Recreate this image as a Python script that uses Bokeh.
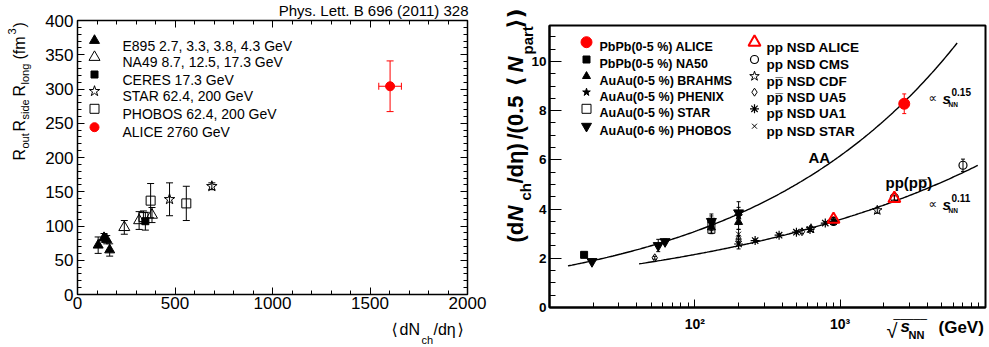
import numpy as np
from math import pi
from bokeh.plotting import figure
from bokeh.models import (ColumnDataSource, Whisker, TeeHead, Label, Range1d,
                          SingleIntervalTicker, FixedTicker, LinearAxis)
from bokeh.core.properties import value
from bokeh.layouts import row
from bokeh.embed import file_html
from bokeh.resources import INLINE

FONT = "Liberation Sans"

# ======================= LEFT PANEL DATA =======================
e895_x = [106, 136, 150, 165]
e895_y = [72, 83, 80, 65]
e895_err = [12, 6, 6, 9]

na49_x = [240, 316, 382]
na49_y = [98, 108, 116]
na49_err = [10, 13, 11]

ceres_x = [348]
ceres_y = [107]
ceres_err = [13]

starL_x = [472, 689]
starL_y = [139, 158]
starL_err = [24, 5]

phobosL_x = [338, 375, 558]
phobosL_y = [113, 137, 133]
phobosL_err = [9, 25, 25]

aliceL_x = [1603]
aliceL_y = [304]
aliceL_xerr = [58]
aliceL_yerr = [37]

left_legend = ["E895 2.7, 3.3, 3.8, 4.3 GeV", "NA49 8.7, 12.5, 17.3 GeV",
               "CERES 17.3 GeV", "STAR 62.4, 200 GeV", "PHOBOS 62.4, 200 GeV",
               "ALICE 2760 GeV"]

# ======================= RIGHT PANEL DATA =======================
alicePb_x = [2760]; alicePb_y = [8.28]; alicePb_err = [0.40]
na50_x = [17.3]; na50_y = [2.14]; na50_err = [0.08]
brahms_x = [130, 200]; brahms_y = [3.25, 3.47]; brahms_err = [0.25, 0.30]
phenix_x = [130, 200]; phenix_y = [3.42, 3.72]; phenix_err = [0.30, 0.35]
starAA_x = [130]; starAA_y = [3.32]; starAA_err = [0.30]
phobosAA_x = [19.6, 56, 62.4, 130, 200]
phobosAA_y = [1.87, 2.52, 2.68, 3.50, 3.85]
phobosAA_err = [0.10, 0.25, 0.10, 0.30, 0.45]

alicepp_x = [900, 2360]; alicepp_y = [3.58, 4.43]; alicepp_err = [0.10, 0.10]
cms_x = [900, 2360, 7000]; cms_y = [3.50, 4.47, 5.78]; cms_err = [0.10, 0.10, 0.25]
cdf_x = [630, 1800]; cdf_y = [3.20, 3.95]; cdf_err = [0.10, 0.12]
ua5_x = [53, 200, 546, 900]; ua5_y = [2.02, 2.78, 3.08, 3.48]; ua5_err = [0.06, 0.15, 0.08, 0.10]
ua1_x = [200, 260, 380, 500, 620, 790, 900]
ua1_y = [2.58, 2.72, 2.94, 3.06, 3.17, 3.43, 3.50]
ua1_err = [0.20, 0.06, 0.06, 0.06, 0.06, 0.06, 0.06]
starpp_x = [200]; starpp_y = [2.98]; starpp_err = [0.20]

# power-law fits drawn in the chart: c * sNN**exp, over the drawn range
aa_fit = dict(coef=0.776, exp=0.15, smin=13.4, smax=6380)
pp_fit = dict(coef=0.782, exp=0.11, smin=41.3, smax=8850)

right_legend_1 = ["PbPb(0-5 %) ALICE", "PbPb(0-5 %) NA50", "AuAu(0-5 %) BRAHMS",
                  "AuAu(0-5 %) PHENIX", "AuAu(0-5 %) STAR", "AuAu(0-6 %) PHOBOS"]
right_legend_2 = ["pp NSD  ALICE", "pp NSD CMS", "pp\u0305 NSD CDF",
                  "pp\u0305 NSD UA5", "pp\u0305 NSD UA1", "pp NSD STAR"]

# ======================= LAYOUT =======================
H = 347
LW = 490
L_FL, L_FR, L_FT, L_FB = 77, 467, 20, 294
LX0, LX1, LY0, LY1 = 0, 2000, 0, 400

RW = 499
R_FL, R_FR, R_FT, R_FB = 59, 495, 25, 307
RX0, RX1, RY0, RY1 = 10, 10000, 0, 11.46


def lpix(px, py):
    return ((px - L_FL) / (L_FR - L_FL) * (LX1 - LX0) + LX0,
            (L_FB - py) / (L_FB - L_FT) * (LY1 - LY0) + LY0)


def rpix(px, py):
    lx = np.log10(RX0) + (px - R_FL) / (R_FR - R_FL) * (np.log10(RX1) - np.log10(RX0))
    return (10 ** lx, (R_FB - py) / (R_FB - R_FT) * (RY1 - RY0) + RY0)


def lab(fig, text, x, y, size, style="normal", color="black", angle=0.0,
        align="left", baseline="alphabetic", font=FONT):
    """text inside the frame (canvas pixel position)"""
    fig.add_layout(Label(x=x, y=y, x_units="canvas", y_units="canvas", text=text,
                         text_font=font, text_font_size=f"{size}px",
                         text_font_style=style, text_color=color, angle=angle,
                         text_align=align, text_baseline=baseline))


def otext(fig, conv, text, x, y, size, style="normal", angle=0.0,
          align="left", font=FONT):
    """text outside the frame: text glyph on the overlay level.
    (x, y) is the baseline start; converted to the text's middle line."""
    shift = 0.33 * size
    if angle == 0.0:
        y = y - shift
    else:
        x = x - shift
    dx, dy = conv(x, y)
    fig.text(x=[dx], y=[dy], text=[text], text_font=value(font),
             text_font_size=value(f"{size}px"), text_font_style=value(style),
             text_color="black", angle=angle, text_align=align,
             text_baseline="middle", level="overlay")


def yerr(fig, xs, ys, es, color="black", head=6, lw=1.0):
    src = ColumnDataSource(dict(x=xs, lo=[y - e for y, e in zip(ys, es)],
                                hi=[y + e for y, e in zip(ys, es)]))
    fig.add_layout(Whisker(source=src, base="x", lower="lo", upper="hi",
                           dimension="height", line_color=color, line_width=lw,
                           upper_head=TeeHead(size=head, line_color=color, line_width=lw),
                           lower_head=TeeHead(size=head, line_color=color, line_width=lw)))


def xerr(fig, xs, ys, es, color="black", head=6, lw=1.0):
    src = ColumnDataSource(dict(y=ys, lo=[x - e for x, e in zip(xs, es)],
                                hi=[x + e for x, e in zip(xs, es)]))
    fig.add_layout(Whisker(source=src, base="y", lower="lo", upper="hi",
                           dimension="width", line_color=color, line_width=lw,
                           upper_head=TeeHead(size=head, line_color=color, line_width=lw),
                           lower_head=TeeHead(size=head, line_color=color, line_width=lw)))


def style_axis(ax, size, bold, tin, minin, standoff):
    ax.major_tick_in = tin
    ax.major_tick_out = 0
    ax.minor_tick_in = minin
    ax.minor_tick_out = 0
    ax.major_tick_line_color = "black"
    ax.minor_tick_line_color = "black"
    ax.axis_line_color = "black"
    ax.major_label_text_font = FONT
    ax.major_label_text_font_size = size
    ax.major_label_text_font_style = "bold" if bold else "normal"
    ax.major_label_text_color = "black"
    ax.major_label_standoff = standoff


# ======================= LEFT FIGURE =======================
p1 = figure(width=LW, height=H, x_range=Range1d(LX0, LX1), y_range=Range1d(LY0, LY1),
            output_backend="svg", toolbar_location=None, frame_align=False,
            min_border_left=L_FL, min_border_right=LW - L_FR,
            min_border_top=L_FT, min_border_bottom=H - L_FB)
p1.grid.visible = False
p1.outline_line_color = "black"
p1.outline_line_width = 1.5
p1.background_fill_color = "white"
p1.border_fill_color = "white"

p1.xaxis.ticker = SingleIntervalTicker(interval=500, num_minor_ticks=5)
p1.yaxis.ticker = SingleIntervalTicker(interval=50, num_minor_ticks=5)
style_axis(p1.xaxis[0], "17px", False, 7, 4, 2)
style_axis(p1.yaxis[0], "17px", False, 7, 4, 4)
for side in ("right", "above"):
    ax = LinearAxis(ticker=SingleIntervalTicker(interval=50 if side == "right" else 500,
                                                num_minor_ticks=5))
    style_axis(ax, "1px", False, 7, 4, 0)
    ax.major_label_text_color = None
    p1.add_layout(ax, side)

# error bars
yerr(p1, e895_x, e895_y, e895_err, head=7)
yerr(p1, na49_x, na49_y, na49_err, head=7)
yerr(p1, ceres_x, ceres_y, ceres_err, head=7)
yerr(p1, starL_x, starL_y, starL_err, head=7)
yerr(p1, phobosL_x, phobosL_y, phobosL_err, head=7)
yerr(p1, aliceL_x, aliceL_y, aliceL_yerr, color="red", head=7)
xerr(p1, aliceL_x, aliceL_y, aliceL_xerr, color="red", head=7)

left_styles = [
    dict(marker="triangle", size=10, fill_color="black", line_color="black"),
    dict(marker="triangle", size=11, fill_color=None, line_color="black"),
    dict(marker="square", size=7, fill_color="black", line_color="black"),
    dict(marker="star", size=11, fill_color=None, line_color="black"),
    dict(marker="square", size=9, fill_color=None, line_color="black"),
    dict(marker="circle", size=9, fill_color="red", line_color="red"),
]
left_series = [(e895_x, e895_y), (na49_x, na49_y), (ceres_x, ceres_y),
               (starL_x, starL_y), (phobosL_x, phobosL_y), (aliceL_x, aliceL_y)]
for (xs, ys), st in zip(left_series, left_styles):
    p1.scatter(x=xs, y=ys, line_width=1.0, **st)

# legend (left)
leg_rows_L = [40, 56.7, 74, 90.7, 108.3, 126.7]
for txt, st, cy in zip(left_legend, left_styles, leg_rows_L):
    mx, my = lpix(94, cy)
    p1.scatter(x=[mx], y=[my], line_width=1.0, **st)
    lab(p1, txt, 122, cy + 5, 14)

otext(p1, lpix, "Phys. Lett. B 696 (2011) 328", 468, 15, 15, align="right")

# y axis title (rotated)
A = pi / 2
otext(p1, lpix, "R", 24, 160, 16, angle=A)
otext(p1, lpix, "out", 28, 148, 11, angle=A)
otext(p1, lpix, "R", 24, 131, 16, angle=A)
otext(p1, lpix, "side", 28, 119, 11, angle=A)
otext(p1, lpix, "R", 24, 96, 16, angle=A)
otext(p1, lpix, "long", 28, 84, 11, angle=A)
otext(p1, lpix, "(fm", 24, 59, 16, angle=A)
otext(p1, lpix, "3", 15, 34, 11, angle=A)
otext(p1, lpix, ")", 24, 27, 16, angle=A)

# x axis title
otext(p1, lpix, "\u27e8", 391, 334, 16, font="DejaVu Sans")
otext(p1, lpix, "dN", 399, 334, 16)
otext(p1, lpix, "ch", 421, 343, 11)
otext(p1, lpix, "/d\u03b7", 433, 334, 16)
otext(p1, lpix, "\u27e9", 457, 334, 16, font="DejaVu Sans")

# ======================= RIGHT FIGURE =======================
p2 = figure(width=RW, height=H, x_axis_type="log",
            x_range=Range1d(RX0, RX1), y_range=Range1d(RY0, RY1),
            output_backend="svg", toolbar_location=None, frame_align=False,
            min_border_left=R_FL, min_border_right=RW - R_FR,
            min_border_top=R_FT, min_border_bottom=H - R_FB)
p2.grid.visible = False
p2.outline_line_color = "black"
p2.outline_line_width = 2
p2.background_fill_color = "white"
p2.border_fill_color = "white"

p2.xaxis.ticker = FixedTicker(ticks=[100, 1000],
                              minor_ticks=[20, 30, 40, 50, 60, 70, 80, 90,
                                           200, 300, 400, 500, 600, 700, 800, 900,
                                           2000, 3000, 4000, 5000, 6000, 7000, 8000, 9000])
p2.xaxis.major_label_overrides = {100: "10\u00b2", 1000: "10\u00b3"}
p2.yaxis.ticker = SingleIntervalTicker(interval=2, num_minor_ticks=4)
style_axis(p2.xaxis[0], "14px", True, 8, 5, 8)
style_axis(p2.yaxis[0], "13.5px", True, 12, 6, 3)
p2.xaxis.axis_line_width = 2
p2.yaxis.axis_line_width = 2

# fit curves
for fit in (aa_fit, pp_fit):
    s = np.logspace(np.log10(fit["smin"]), np.log10(fit["smax"]), 200)
    p2.line(x=s, y=fit["coef"] * (s ** 2) ** fit["exp"], line_color="black", line_width=1.4)

# error bars
yerr(p2, alicePb_x, alicePb_y, alicePb_err, color="red", head=4)
yerr(p2, na50_x, na50_y, na50_err, head=4)
yerr(p2, brahms_x, brahms_y, brahms_err, head=4)
yerr(p2, phenix_x, phenix_y, phenix_err, head=4)
yerr(p2, starAA_x, starAA_y, starAA_err, head=4)
yerr(p2, phobosAA_x, phobosAA_y, phobosAA_err, head=4)
yerr(p2, alicepp_x, alicepp_y, alicepp_err, color="red", head=4)
yerr(p2, cms_x, cms_y, cms_err, head=4)
yerr(p2, cdf_x, cdf_y, cdf_err, head=4)
yerr(p2, ua5_x, ua5_y, ua5_err, head=4)
yerr(p2, ua1_x, ua1_y, ua1_err, head=4)
yerr(p2, starpp_x, starpp_y, starpp_err, head=4)

aa_styles = [
    dict(marker="circle", size=11, fill_color="red", line_color="red", line_width=1),
    dict(marker="square", size=7, fill_color="black", line_color="black", line_width=1),
    dict(marker="triangle", size=8, fill_color="black", line_color="black", line_width=1),
    dict(marker="star", size=8, fill_color="black", line_color="black", line_width=1),
    dict(marker="square", size=9, fill_color=None, line_color="black", line_width=1),
    dict(marker="inverted_triangle", size=10, fill_color="black", line_color="black", line_width=1),
]
pp_styles = [
    dict(marker="triangle", size=12, fill_color=None, line_color="red", line_width=2),
    dict(marker="circle", size=8, fill_color=None, line_color="black", line_width=1.2),
    dict(marker="star", size=10, fill_color=None, line_color="black", line_width=1),
    dict(marker="diamond", size=8, fill_color=None, line_color="black", line_width=1),
    dict(marker="asterisk", size=9, fill_color=None, line_color="black", line_width=1.2),
    dict(marker="x", size=7, fill_color=None, line_color="black", line_width=1),
]

# STAR AuAu drawn as a tall open box
p2.rect(x=starAA_x, y=starAA_y, width=7, height=15, width_units="screen",
        height_units="screen", fill_color=None, line_color="black", line_width=1)

aa_series = [(alicePb_x, alicePb_y), (na50_x, na50_y), (brahms_x, brahms_y),
             (phenix_x, phenix_y), None, (phobosAA_x, phobosAA_y)]
pp_series = [(alicepp_x, alicepp_y), (cms_x, cms_y), (cdf_x, cdf_y),
             (ua5_x, ua5_y), (ua1_x, ua1_y), (starpp_x, starpp_y)]
for ser, st in zip(pp_series[1:], pp_styles[1:]):
    p2.scatter(x=ser[0], y=ser[1], **st)
for ser, st in zip(aa_series, aa_styles):
    if ser is not None:
        p2.scatter(x=ser[0], y=ser[1], **st)
p2.scatter(x=pp_series[0][0], y=pp_series[0][1], **pp_styles[0])

# legend (right), canvas coordinates of the right figure
leg_rows_R = [41.7, 59, 75.7, 91.7, 108.3, 125.7]
for txt, st, cy in zip(right_legend_1, aa_styles, leg_rows_R):
    mx, my = rpix(96, cy)
    p2.scatter(x=[mx], y=[my], **st)
    lab(p2, txt, 109, cy + 4.5, 12.5, style="bold")
for txt, st, cy in zip(right_legend_2, pp_styles, leg_rows_R):
    mx, my = rpix(264, cy)
    p2.scatter(x=[mx], y=[my], **st)
    lab(p2, txt, 276, cy + 5, 13.5, style="bold")

# curve annotations
lab(p2, "AA", 318, 157, 15, style="bold")
lab(p2, "pp(pp\u0305)", 395, 182, 15, style="bold")
for base in (98, 204):
    lab(p2, "\u221d", 438, base - 1, 12, font="DejaVu Sans")
    lab(p2, "s", 452, base, 15, style="bold italic")
    lab(p2, "NN", 458, base + 6, 6.5, style="bold")
lab(p2, "0.15", 461, 91, 10, style="bold")
lab(p2, "0.11", 461, 197, 10, style="bold")

# x axis title
otext(p2, rpix, "\u221a", 396, 337, 20)
otext(p2, rpix, "_____", 403, 316, 12)
otext(p2, rpix, "s", 410, 332, 17, style="bold italic")
otext(p2, rpix, "NN", 418, 338, 11, style="bold")
otext(p2, rpix, "(GeV)", 448, 333, 17, style="bold")

# y axis title (rotated)
otext(p2, rpix, "(d", 32, 242, 22, style="bold", angle=A)
otext(p2, rpix, "N", 32, 221, 22, style="bold italic", angle=A)
otext(p2, rpix, "ch", 40, 200, 15, style="bold", angle=A)
otext(p2, rpix, "/d\u03b7)", 32, 183, 22, style="bold", angle=A)
otext(p2, rpix, "/(0.5", 32, 139, 22, style="bold", angle=A)
otext(p2, rpix, "\u27e8", 32, 86, 22, style="bold", angle=A, font="DejaVu Sans")
otext(p2, rpix, "N", 32, 72, 22, style="bold italic", angle=A)
otext(p2, rpix, "part", 42, 54, 15, style="bold", angle=A)
otext(p2, rpix, "\u27e9)", 32, 28, 22, style="bold", angle=A, font="DejaVu Sans")

layout = row(p1, p2)
open("out.html", "w").write(file_html(layout, INLINE))
